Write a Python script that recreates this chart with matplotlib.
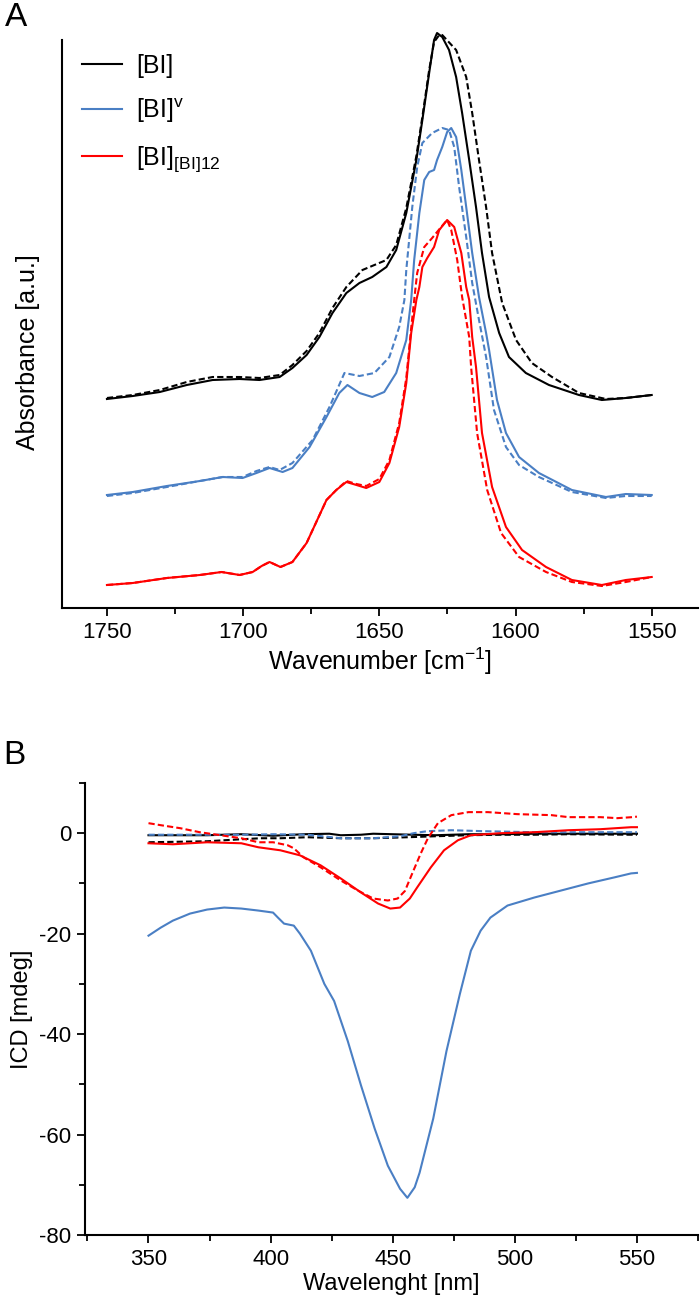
import matplotlib
matplotlib.use("Agg")
import matplotlib.pyplot as plt
from matplotlib.ticker import MultipleLocator

plt.rcParams["font.family"] = ["Liberation Sans", "DejaVu Sans"]
plt.rcParams["mathtext.fontset"] = "custom"
plt.rcParams["mathtext.rm"] = "Liberation Sans"
plt.rcParams["mathtext.it"] = "Liberation Sans"
plt.rcParams["axes.unicode_minus"] = False

BLACK = "#000000"
BLUE = "#4a7fc4"
RED = "#ff0000"

# --- Panel A: FTIR spectra (wavenumber cm-1, absorbance a.u. with offsets)
bi_wn = [1750, 1740.5, 1730.6, 1720.7, 1711.2, 1701.3, 1694.0, 1686.6, 1681.9, 1676.7,
         1672.0, 1667.2, 1662.1, 1657.3, 1652.6, 1647.4, 1643.8, 1640.1, 1636.4, 1634.2,
         1631.7, 1629.9, 1628.8, 1626.9, 1624.4, 1621.8, 1619.6, 1617.0, 1614.5, 1612.3,
         1609.7, 1606.0, 1602.4, 1596.2, 1587.7, 1576.7, 1568.3, 1559.5, 1550]
bi_abs = [2.09, 2.12, 2.16, 2.23, 2.28, 2.29, 2.28, 2.31, 2.40, 2.53,
          2.71, 2.95, 3.15, 3.25, 3.31, 3.41, 3.58, 3.95, 4.48, 4.88,
          5.35, 5.68, 5.75, 5.71, 5.58, 5.31, 4.95, 4.48, 4.01, 3.55,
          3.11, 2.75, 2.51, 2.35, 2.23, 2.13, 2.08, 2.10, 2.13]

bi_d_wn = [1750, 1740.5, 1730.6, 1720.7, 1711.2, 1701.3, 1694.0, 1686.6, 1681.9, 1676.7,
           1672.0, 1667.2, 1662.1, 1656.2, 1647.4, 1643.8, 1640.1, 1636.4, 1634.2, 1631.7,
           1629.9, 1628.0, 1626.9, 1621.8, 1618.1, 1615.9, 1613.4, 1610.8, 1608.6, 1604.9,
           1599.8, 1594.0, 1586.6, 1576.7, 1566.8, 1559.5, 1550]
bi_d_abs = [2.10, 2.13, 2.18, 2.26, 2.31, 2.31, 2.30, 2.33, 2.43, 2.57,
            2.75, 3.00, 3.21, 3.38, 3.48, 3.63, 4.00, 4.52, 4.91, 5.38,
            5.66, 5.73, 5.73, 5.58, 5.31, 4.95, 4.48, 4.01, 3.55, 3.05,
            2.68, 2.45, 2.31, 2.15, 2.09, 2.10, 2.13]

biv_wn = [1750, 1740.5, 1728.0, 1715.9, 1707.5, 1700.2, 1695.1, 1690.3, 1685.5, 1681.9,
          1675.6, 1669.4, 1664.7, 1661.7, 1657.3, 1652.6, 1648.2, 1643.8, 1640.1, 1638.3,
          1637.2, 1635.3, 1633.5, 1631.7, 1629.9, 1628.8, 1626.9, 1625.1, 1623.6, 1621.8,
          1619.9, 1618.1, 1615.9, 1613.4, 1610.8, 1609.7, 1606.8, 1603.5, 1598.7, 1591.4,
          1579.3, 1566.8, 1559.5, 1550]
biv_abs = [1.13, 1.16, 1.22, 1.27, 1.31, 1.30, 1.35, 1.40, 1.36, 1.40,
           1.61, 1.91, 2.15, 2.23, 2.15, 2.11, 2.16, 2.35, 2.68, 3.08,
           3.48, 3.95, 4.28, 4.36, 4.38, 4.48, 4.61, 4.76, 4.80, 4.71,
           4.38, 4.01, 3.55, 3.11, 2.75, 2.58, 2.08, 1.75, 1.51, 1.35,
           1.18, 1.11, 1.14, 1.13]

biv_d_wn = [1750, 1740.5, 1728.0, 1715.9, 1707.5, 1700.2, 1695.1, 1690.3, 1686.6, 1681.9,
            1674.5, 1668.3, 1662.8, 1657.3, 1651.8, 1646.3, 1642.7, 1640.8, 1640.1, 1637.9,
            1636.1, 1634.2, 1630.6, 1626.9, 1624.4, 1622.5, 1620.7, 1618.1, 1615.9, 1613.4,
            1610.8, 1607.9, 1603.5, 1598.7, 1591.4, 1579.3, 1566.8, 1559.5, 1550]
biv_d_abs = [1.12, 1.15, 1.21, 1.27, 1.31, 1.31, 1.37, 1.41, 1.38, 1.45,
             1.68, 2.01, 2.35, 2.32, 2.35, 2.51, 2.81, 3.08, 3.38, 4.01,
             4.41, 4.65, 4.75, 4.80, 4.78, 4.61, 4.21, 3.71, 3.25, 2.88,
             2.51, 1.98, 1.61, 1.43, 1.31, 1.16, 1.10, 1.12, 1.12]

bi12_wn = [1750, 1740.5, 1728.0, 1715.9, 1707.9, 1701.3, 1696.5, 1693.2, 1690.3, 1686.3,
           1681.9, 1676.7, 1669.4, 1665.8, 1662.1, 1658.4, 1654.8, 1650.0, 1646.3, 1642.7,
           1640.1, 1638.3, 1636.4, 1635.3, 1634.2, 1632.4, 1629.9, 1628.0, 1625.1, 1622.5,
           1619.9, 1618.1, 1617.0, 1615.9, 1614.5, 1612.3, 1608.6, 1603.5, 1597.6, 1588.8,
           1579.3, 1568.3, 1559.5, 1550]
bi12_abs = [0.23, 0.25, 0.30, 0.33, 0.36, 0.33, 0.36, 0.42, 0.46, 0.41,
            0.46, 0.65, 1.08, 1.18, 1.26, 1.23, 1.20, 1.26, 1.45, 1.81,
            2.25, 2.75, 3.08, 3.21, 3.41, 3.50, 3.61, 3.78, 3.88, 3.81,
            3.55, 3.21, 3.08, 2.71, 2.41, 1.75, 1.21, 0.81, 0.58, 0.41,
            0.28, 0.23, 0.28, 0.31]

bi12_d_wn = [1750, 1740.5, 1728.0, 1715.9, 1707.9, 1701.3, 1696.5, 1693.2, 1690.3, 1686.3,
             1681.9, 1676.7, 1669.4, 1665.8, 1662.1, 1658.4, 1654.8, 1650.0, 1646.3, 1642.7,
             1640.1, 1638.3, 1637.2, 1636.1, 1633.5, 1630.6, 1627.3, 1625.1, 1623.6, 1621.4,
             1619.6, 1617.0, 1616.3, 1614.1, 1610.4, 1605.3, 1598.7, 1588.8, 1579.3, 1568.3,
             1559.5, 1550]
bi12_d_abs = [0.23, 0.25, 0.30, 0.33, 0.36, 0.33, 0.36, 0.42, 0.46, 0.41,
              0.46, 0.65, 1.08, 1.18, 1.27, 1.24, 1.22, 1.29, 1.48, 1.85,
              2.30, 2.80, 3.08, 3.35, 3.61, 3.70, 3.81, 3.88, 3.78, 3.48,
              3.11, 2.71, 2.41, 1.75, 1.18, 0.75, 0.51, 0.36, 0.26, 0.22,
              0.26, 0.31]

# --- Panel B: ICD spectra (wavelength nm, mdeg)
bi_cd_nm = [350, 374, 388, 401, 413.5, 424, 428.7, 437, 442, 450, 458, 467.6, 481, 494,
            508, 522, 548, 550]
bi_cd = [-0.4, -0.4, -0.2, -0.5, -0.2, -0.1, -0.4, -0.3, -0.1, -0.2, -0.3, -0.4, -0.2,
         -0.2, -0.1, -0.1, -0.1, -0.1]
bi_cd_d_nm = [350, 374, 388, 396, 404, 415, 429, 442, 456, 467.6, 481, 494, 508, 522,
              548, 550]
bi_cd_d = [-1.8, -1.6, -1.2, -1.0, -1.0, -0.8, -1.0, -1.0, -0.8, -0.6, -0.4, -0.3,
           -0.3, -0.2, -0.3, -0.3]

biv_cd_nm = [350, 355, 360, 367, 374, 381, 388, 395, 401, 403, 405.5, 409.5, 412, 416.5,
             422, 426, 431.6, 437, 442.6, 448, 453, 456, 459, 461, 466.6, 472, 477.5, 482,
             486, 490, 497, 508, 519, 530, 540.7, 547.6, 550]
biv_cd = [-20.4, -18.8, -17.4, -16.0, -15.2, -14.8, -15.0, -15.4, -15.8, -16.8, -18.0,
          -18.4, -20.0, -23.4, -30.0, -33.4, -41.4, -50.2, -58.8, -66.2, -70.8, -72.6,
          -70.5, -67.6, -56.8, -43.4, -32.0, -23.4, -19.4, -16.8, -14.4, -12.8, -11.4,
          -10.0, -8.8, -8.0, -7.9]
biv_cd_d_nm = [350, 367, 388, 401, 415, 429, 442, 453, 458.5, 464, 474, 487.5, 508, 522,
               548, 550]
biv_cd_d = [-0.3, -0.3, -0.3, -0.2, -0.3, -1.0, -1.0, -0.6, 0.0, 0.4, 0.6, 0.4, 0.2,
            0.2, 0.2, 0.2]

bi12_cd_nm = [350, 360, 374, 388, 395, 404, 412, 420.5, 428.7, 437, 444, 449, 453, 457,
              460, 465.6, 471, 476.7, 482, 494, 508, 522, 535, 547.6, 550]
bi12_cd = [-2.0, -2.2, -1.8, -2.0, -2.8, -3.4, -4.4, -6.4, -9.0, -11.8, -14.0, -15.0,
           -14.8, -13.0, -10.8, -6.8, -3.4, -1.4, -0.4, 0.0, 0.2, 0.6, 0.8, 1.2, 1.2]
bi12_cd_d_nm = [350, 355, 363, 371, 379.5, 388, 395, 401, 407, 409.5, 413.5, 420.5,
                428.7, 435.7, 442, 448, 452, 455, 458, 461.5, 464.4, 468.5, 474, 481,
                489, 501, 515, 522, 535, 542, 548, 550]
bi12_cd_d = [2.0, 1.6, 1.0, 0.2, -0.4, -1.0, -1.8, -1.8, -2.4, -3.0, -4.8, -6.8,
             -9.4, -11.4, -13.0, -13.4, -13.0, -11.5, -8.0, -4.0, -1.0, 2.0, 3.6, 4.2,
             4.2, 3.8, 3.6, 3.2, 3.2, 3.0, 3.2, 3.3]

fig = plt.figure(figsize=(7, 13.13), dpi=100)
lw = 1.5
dash = (0, (3, 1.5))

# ---------- Panel A
axA = fig.add_axes([62 / 700, 1 - 608 / 1313, 636 / 700, 568 / 1313])
l1, = axA.plot(bi_wn, bi_abs, color=BLACK, lw=lw, clip_on=False)
axA.plot(bi_d_wn, bi_d_abs, color=BLACK, lw=lw, ls=dash, clip_on=False)
l2, = axA.plot(biv_wn, biv_abs, color=BLUE, lw=lw, clip_on=False)
axA.plot(biv_d_wn, biv_d_abs, color=BLUE, lw=lw, ls=dash, clip_on=False)
l3, = axA.plot(bi12_wn, bi12_abs, color=RED, lw=lw, clip_on=False)
axA.plot(bi12_d_wn, bi12_d_abs, color=RED, lw=lw, ls=dash, clip_on=False)

axA.set_xlim(1766.5, 1533)
axA.set_ylim(0, 5.68)
axA.spines["top"].set_visible(False)
axA.spines["right"].set_visible(False)
axA.spines["left"].set_linewidth(1.5)
axA.spines["bottom"].set_linewidth(1.5)
axA.set_yticks([])
axA.xaxis.set_major_locator(MultipleLocator(50))
axA.xaxis.set_minor_locator(MultipleLocator(25))
axA.tick_params(axis="x", which="major", length=6, width=1.3, labelsize=16, pad=4)
axA.tick_params(axis="x", which="minor", length=4, width=1.3)
axA.set_xlabel("Wavenumber [cm$^{-1}$]", fontsize=18, labelpad=2)
axA.set_ylabel("Absorbance [a.u.]", fontsize=18)
axA.yaxis.set_label_coords(-0.035, 0.45)
axA.legend([l1, l2, l3],
           ["[BI]", "[BI]$^{\\mathrm{v}}$", "[BI]$_{[\\mathrm{BI}]12}$"],
           loc="upper left", bbox_to_anchor=(0.0, 1.011), frameon=False,
           fontsize=18, handlelength=1.6, handletextpad=0.55, labelspacing=0.75,
           borderaxespad=0.4, borderpad=0.4)
fig.text(5 / 700, 1 - 18 / 1313, "A", fontsize=24, va="center", ha="left")

# ---------- Panel B
axB = fig.add_axes([85 / 700, 1 - 1235 / 1313, 613 / 700, 452 / 1313])
axB.plot(bi_cd_nm, bi_cd, color=BLACK, lw=lw)
axB.plot(bi_cd_d_nm, bi_cd_d, color=BLACK, lw=lw, ls=dash)
axB.plot(biv_cd_nm, biv_cd, color=BLUE, lw=lw)
axB.plot(biv_cd_d_nm, biv_cd_d, color=BLUE, lw=lw, ls=dash)
axB.plot(bi12_cd_nm, bi12_cd, color=RED, lw=lw)
axB.plot(bi12_cd_d_nm, bi12_cd_d, color=RED, lw=lw, ls=dash)

axB.set_xlim(324, 575)
axB.set_ylim(-80, 10)
axB.spines["top"].set_visible(False)
axB.spines["right"].set_visible(False)
axB.spines["left"].set_linewidth(1.5)
axB.spines["bottom"].set_linewidth(1.5)
axB.xaxis.set_major_locator(MultipleLocator(50))
axB.xaxis.set_minor_locator(MultipleLocator(25))
axB.yaxis.set_major_locator(MultipleLocator(20))
axB.yaxis.set_minor_locator(MultipleLocator(10))
axB.tick_params(which="major", length=6, width=1.3, labelsize=16, pad=4)
axB.tick_params(which="minor", length=4, width=1.3)
axB.set_xlabel("Wavelenght [nm]", fontsize=17, labelpad=2)
axB.set_ylabel("ICD [mdeg]", fontsize=17, labelpad=4)
fig.text(3 / 700, 1 - 756 / 1313, "B", fontsize=24, va="center", ha="left")

fig.savefig("out.png", dpi=100)
